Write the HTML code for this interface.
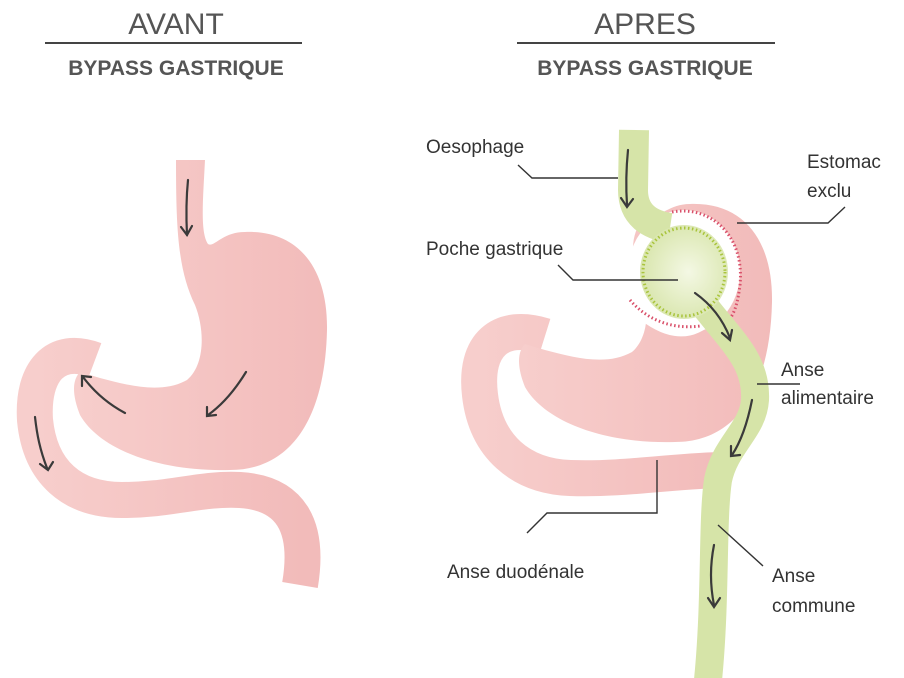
<!DOCTYPE html>
<html><head><meta charset="utf-8"><style>
html,body{margin:0;padding:0;background:#fff;}
svg{display:block;}
text{font-family:"Liberation Sans",sans-serif;}
</style></head><body>
<svg width="904" height="678" viewBox="0 0 904 678" xmlns="http://www.w3.org/2000/svg">
<defs>
<linearGradient id="pk" x1="0" x2="1" y1="0" y2="0">
<stop offset="0" stop-color="#f7cecc"/><stop offset="1" stop-color="#f2bbba"/></linearGradient>
<radialGradient id="gr" cx="0.55" cy="0.5" r="0.6">
<stop offset="0" stop-color="#f4f8e4"/><stop offset="1" stop-color="#d6e4a8"/></radialGradient>
</defs>
<!-- titles -->
<text x="176" y="34" font-size="30" fill="#555" text-anchor="middle">AVANT</text>
<line x1="45" y1="43" x2="302" y2="43" stroke="#444" stroke-width="2"/>
<text x="176" y="75" font-size="21" font-weight="bold" fill="#555" text-anchor="middle">BYPASS GASTRIQUE</text>
<text x="645" y="34" font-size="30" fill="#555" text-anchor="middle">APRES</text>
<line x1="517" y1="43" x2="775" y2="43" stroke="#444" stroke-width="2"/>
<text x="645" y="75" font-size="21" font-weight="bold" fill="#555" text-anchor="middle">BYPASS GASTRIQUE</text>

<!-- LEFT -->
<path d="M95,360 C55,345 32,372 35,420 C40,472 72,500 122,500 C172,500 200,488 240,490 C290,493 310,525 300,585" fill="none" stroke="url(#pk)" stroke-width="36"/>
<path fill="url(#pk)" d="M176,160 L205,160 C203,200 200,232 208,244 C214,248 222,232 245,232 C300,230 328,270 327,330 C325,420 290,470 230,470 C160,472 100,450 80,415 C72,395 72,380 80,372 L100,378 C130,386 162,394 187,380 C205,365 205,330 195,305 C178,270 176,230 176,160 Z"/>
<g fill="none" stroke="#3a3a3a" stroke-width="2.2" stroke-linecap="round">
<path d="M188,180 C186,200 186,215 187,235"/><path d="M181,227 L187,235 L192,226"/>
<path d="M246,372 C235,390 222,405 208,415"/><path d="M207,407 L207,416 L216,415"/>
<path d="M125,413 C110,405 95,393 83,377"/><path d="M82,386 L82,376 L91,377"/>
<path d="M35,417 C37,435 40,450 47,468"/><path d="M40,464 L48,470 L53,462"/>
</g>

<!-- RIGHT -->
<path d="M545,336 C500,322 474,345 480,395 C486,446 520,476 570,478 C625,480 680,470 725,470" fill="none" stroke="url(#pk)" stroke-width="36"/>
<g transform="translate(445,-28)"><path fill="url(#pk)" d="M200,245 C214,248 222,232 245,232 C300,230 328,270 327,330 C325,420 290,470 230,470 C160,472 100,450 80,415 C72,395 72,380 80,372 L100,378 C130,386 162,394 187,380 C205,365 205,330 195,305 C185,285 185,260 200,245 Z"/></g>
<ellipse cx="684" cy="272" rx="56" ry="62" fill="#fff"/>
<path d="M710,316 C690,336 665,336 628,300" fill="none" stroke="#fff" stroke-width="14"/>
<!-- red stitch arcs -->
<path d="M672,212 C710,205 745,235 740,285 C736,318 728,320 724,325" fill="none" stroke="#d9506a" stroke-width="3" stroke-dasharray="1.5 2.5"/>
<path d="M630,300 C645,318 670,330 700,326" fill="none" stroke="#d9506a" stroke-width="3" stroke-dasharray="1.5 2.5"/>
<path d="M715,462 C722,470 720,485 712,490" fill="none" stroke="#d9506a" stroke-width="3" stroke-dasharray="1.5 2.5"/>
<!-- green tubes -->
<path d="M634,130 L633,190 C633,215 650,225 670,228" fill="none" stroke="#d6e4a8" stroke-width="30"/>
<path d="M700,300 C730,340 757,360 755,400 C753,430 725,445 718,480 C712,520 716,600 708,680" fill="none" stroke="#d6e4a8" stroke-width="28"/>
<ellipse cx="684" cy="272" rx="44" ry="47" fill="url(#gr)"/>
<ellipse cx="684" cy="272" rx="41" ry="44" fill="none" stroke="#a9c43c" stroke-width="3" stroke-dasharray="1.5 2.5"/>
<g fill="none" stroke="#3a3a3a" stroke-width="2.2" stroke-linecap="round">
<path d="M628,150 C626,170 626,190 627,205"/><path d="M621,198 L627,207 L633,199"/>
<path d="M695,293 C712,305 723,320 730,338"/><path d="M722,333 L730,340 L732,330"/>
<path d="M752,400 C748,420 742,440 732,455"/><path d="M731,446 L731,456 L740,455"/>
<path d="M714,545 C710,565 710,585 714,605"/><path d="M708,598 L714,607 L720,598"/>
</g>
<!-- leaders -->
<g fill="none" stroke="#333" stroke-width="1.4">
<polyline points="518,165 532,178 618,178"/>
<polyline points="845,207 828,223 737,223"/>
<polyline points="558,265 573,280 678,280"/>
<polyline points="757,384 800,384"/>
<polyline points="527,533 547,513 657,513 657,460"/>
<polyline points="718,525 763,566"/>
</g>
<g font-size="19" fill="#333">
<text x="426" y="153">Oesophage</text>
<text x="807" y="168">Estomac</text><text x="807" y="197">exclu</text>
<text x="426" y="255">Poche gastrique</text>
<text x="781" y="376">Anse</text><text x="781" y="404">alimentaire</text>
<text x="447" y="578">Anse duodénale</text>
<text x="772" y="582">Anse</text><text x="772" y="612">commune</text>
</g>
</svg>
</body></html>
